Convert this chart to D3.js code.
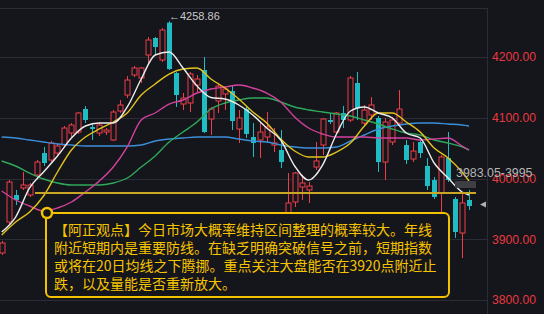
<!DOCTYPE html>
<html>
<head>
<meta charset="utf-8">
<script src="https://cdn.jsdelivr.net/npm/d3@7"></script>
<style>
  html, body { margin: 0; padding: 0; background: #15151c; }
  svg { display: block; }
</style>
</head>
<body>
<div id="chart"></div>
<script>
// Daily candles (index = trading day)
const opens  = [3877.4,3928.4,3972.8,3984.4,3972.8,4005.8,4041.9,4030.4,4041.9,4055.1,4074.9,4076.5,4114.4,4084.8,4074.9,4076.5,4063.4,4111.1,4137.4,4170.4,4165.4,4203.3,4231.3,4195.1,4256.5,4173.6,4122.6,4124.3,4153.9,4178.6,4097.9,4127.6,4139.1,4144.0,4081.5,4114.4,4068.3,4063.4,4068.3,4055.1,4046.9,3939.9,3961.3,3986.0,3981.1,4018.9,4055.1,4096.3,4076.5,4107.8,4096.3,4157.2,4091.3,4104.5,4099.6,4027.1,4060.1,4091.3,4055.1,4032.1,4060.1,4020.6,3997.5,3976.1,4033.7,3966.2,3910.3,3964.6];
const closes = [3893.8,3994.2,3964.6,3989.3,3989.3,4027.1,4025.5,4058.4,4053.5,4083.1,4088.0,4107.8,4096.3,4081.5,4088.0,4079.8,4109.4,4121.0,4162.1,4181.9,4181.9,4228.0,4216.4,4244.4,4180.2,4137.4,4132.5,4172.0,4163.8,4076.5,4114.4,4152.2,4147.3,4094.6,4099.6,4073.2,4058.4,4076.5,4084.8,4058.4,4027.1,3959.7,4009.0,3992.6,3987.6,4028.8,4097.9,4093.0,4107.8,4096.3,4165.4,4116.0,4112.7,4121.0,4027.1,4093.0,4096.3,4114.4,4030.4,4045.2,4041.9,3987.6,3969.5,4035.4,3997.5,3912.0,3959.7,3954.7];
const highs  = [3897.1,3997.5,3981.1,4010.7,3992.6,4030.4,4051.8,4061.7,4058.4,4086.4,4091.3,4109.4,4119.3,4091.3,4093.0,4083.1,4112.7,4129.2,4168.7,4185.2,4183.5,4232.9,4232.9,4247.7,4258.86,4175.3,4140.7,4175.3,4170.4,4200.0,4117.7,4157.2,4150.6,4153.9,4112.7,4119.3,4091.3,4091.3,4109.4,4083.1,4079.8,4009.0,4010.7,4005.8,3994.2,4060.1,4099.6,4107.8,4109.4,4119.3,4168.7,4175.3,4121.0,4134.1,4102.9,4099.6,4101.2,4145.7,4063.4,4060.1,4063.4,4033.7,4002.5,4038.7,4076.5,3969.5,3976.1,3981.1];
const lows   = [3874.1,3925.1,3956.4,3981.1,3969.5,4000.8,4020.6,4027.1,4038.7,4051.8,4068.3,4073.2,4091.3,4063.4,4069.9,4071.6,4061.7,4107.8,4132.5,4167.1,4157.2,4190.1,4203.3,4191.8,4178.6,4117.7,4112.7,4109.4,4142.4,4074.9,4071.6,4107.8,4112.7,4079.8,4058.4,4066.7,4035.4,4033.7,4058.4,4043.6,4017.3,3928.4,3953.1,3964.6,3959.7,4014.0,4038.7,4089.7,4074.9,4083.1,4093.0,4096.3,4088.0,4096.3,4010.7,3997.5,4055.1,4088.0,4023.9,4027.1,4033.7,3981.1,3966.2,3902.1,3994.2,3902.1,3869.1,3948.1];

// Moving averages read at every other day
const maIdx = [0,2,4,6,8,10,12,14,16,18,20,22,24,26,28,30,32,34,36,38,40,42,44,46,48,50,52,54,56,58,60,62,64,66,67];
const ma5  = [3912.0,3936.6,3984.4,4010.7,4037.0,4066.7,4086.4,4091.4,4091.4,4117.7,4163.8,4203.3,4208.2,4181.9,4152.3,4133.3,4130.9,4121.0,4104.5,4083.1,4063.4,4020.6,3997.5,4022.2,4073.3,4111.1,4117.7,4107.8,4099.6,4074.9,4066.7,4025.5,4000.8,3977.8,3972.9];
const ma10 = [3907.0,3928.4,3944.9,3971.2,4010.7,4046.9,4068.3,4081.5,4093.0,4107.8,4137.4,4155.6,4172.0,4180.2,4181.9,4163.8,4149.0,4130.9,4109.5,4091.4,4065.0,4045.3,4035.4,4035.4,4043.6,4058.4,4086.4,4107.8,4107.8,4093.0,4076.5,4050.2,4033.8,4010.7,3995.9];
const ma20 = [3979.4,3964.6,3954.7,3946.5,3951.5,3961.3,3977.8,3995.9,4018.9,4051.9,4096.3,4107.8,4122.6,4129.2,4140.7,4147.3,4150.6,4153.9,4149.0,4140.7,4126.0,4101.2,4083.1,4073.3,4068.3,4068.3,4068.3,4066.7,4066.7,4066.7,4063.4,4065.0,4066.7,4053.5,4046.9];
const ma30 = [4028.8,4020.6,4009.0,3999.2,3992.6,3989.3,3989.3,3989.3,3992.6,4000.8,4018.9,4037.0,4060.0,4076.5,4093.0,4114.4,4124.3,4129.2,4132.5,4132.5,4126.0,4117.7,4112.8,4109.5,4106.2,4102.9,4096.3,4089.7,4081.5,4074.9,4071.6,4063.4,4058.4,4051.9,4046.9];
const ma60 = [4068.3,4066.7,4063.4,4060.0,4056.8,4055.2,4053.5,4053.5,4053.5,4053.5,4055.2,4061.7,4065.0,4066.7,4068.3,4068.3,4068.3,4065.0,4061.7,4060.0,4055.2,4051.9,4050.2,4050.2,4051.9,4061.7,4071.6,4081.5,4086.4,4089.7,4091.4,4091.4,4089.7,4088.0,4086.4];

const yTicks = [3800, 3900, 4000, 4100, 4200];
const supportLevel = 3976;
const highLabel = "←4258.86";
const rangeLabel = "3983.05-3995";
const noteLines = [
    "【阿正观点】今日市场大概率维持区间整理的概率较大。年线",
    "附近短期内是重要防线。在缺乏明确突破信号之前，短期指数",
    "或将在20日均线之下腾挪。重点关注大盘能否在3920点附近止",
    "跌，以及量能是否重新放大。"
];

const width = 544, height = 314;
const plotRight = 487, plotTop = 8;
const upColor = "#ee3f48", downColor = "#1fbcc4";

const svg = d3.select("#chart").append("svg")
    .attr("width", width)
    .attr("height", height)
    .style("background", "#15151c");

const x = d3.scaleBand()
    .domain(d3.range(opens.length))
    .range([-1.79, -1.79 + 6.975 * opens.length])
    .paddingInner(0.28)
    .paddingOuter(0.14);
const cx = i => x(i) + x.bandwidth() / 2;

const y = d3.scaleLinear()
    .domain([3800, 4200])
    .range([300, 57]);

// grid
svg.append("line")
    .attr("x1", 0).attr("x2", plotRight)
    .attr("y1", plotTop + 0.5).attr("y2", plotTop + 0.5)
    .attr("stroke", "#2c2c36");
svg.append("line")
    .attr("x1", plotRight + 0.5).attr("x2", plotRight + 0.5)
    .attr("y1", plotTop).attr("y2", height)
    .attr("stroke", "#2c2c36");
svg.selectAll("line.grid")
    .data(yTicks)
    .join("line")
    .attr("class", "grid")
    .attr("x1", 0).attr("x2", plotRight)
    .attr("y1", d => Math.round(y(d)) + 0.5)
    .attr("y2", d => Math.round(y(d)) + 0.5)
    .attr("stroke", "#2c2c36");

// right axis labels
const axis = svg.append("g")
    .attr("transform", `translate(${plotRight + 2},0)`)
    .call(d3.axisRight(y).tickValues(yTicks).tickFormat(d3.format(".2f")).tickSize(0).tickPadding(3));
axis.select(".domain").remove();
axis.selectAll("text")
    .attr("fill", "#e5393f")
    .attr("font-family", "Liberation Sans, Arial, sans-serif")
    .attr("font-size", "12.2px");

const plot = svg.append("g");
svg.append("clipPath").attr("id", "clip")
    .append("rect").attr("x", 0).attr("y", plotTop).attr("width", plotRight).attr("height", height - plotTop);
plot.attr("clip-path", "url(#clip)");

// candles
const idx = d3.range(opens.length);
plot.selectAll("line.wick")
    .data(idx)
    .join("line")
    .attr("class", "wick")
    .attr("x1", i => Math.round(cx(i)) + 0.5)
    .attr("x2", i => Math.round(cx(i)) + 0.5)
    .attr("y1", i => y(highs[i]))
    .attr("y2", i => y(lows[i]))
    .attr("stroke", i => closes[i] >= opens[i] ? upColor : downColor);

plot.selectAll("rect.body")
    .data(idx)
    .join("rect")
    .attr("class", "body")
    .attr("x", i => Math.round(cx(i)) - 2)
    .attr("width", 5)
    .attr("y", i => y(Math.max(opens[i], closes[i])))
    .attr("height", i => Math.max(1, Math.abs(y(opens[i]) - y(closes[i]))))
    .attr("fill", i => closes[i] >= opens[i] ? "#15151c" : downColor)
    .attr("stroke", i => closes[i] >= opens[i] ? upColor : "none")
    .attr("stroke-width", 1);

// moving averages
const maLine = d3.line()
    .x(d => cx(d[0]))
    .y(d => y(d[1]))
    .curve(d3.curveMonotoneX);
[[ma60, "#3b8fd8"], [ma30, "#2fa85a"], [ma20, "#d2429c"], [ma10, "#e2c21c"], [ma5, "#ececec"]]
    .forEach(([vals, color]) => {
        plot.append("path")
            .datum(maIdx.map((k, j) => [k, vals[j]]))
            .attr("d", maLine)
            .attr("fill", "none")
            .attr("stroke", color)
            .attr("stroke-width", 1.4);
    });

// support line
svg.append("line")
    .attr("x1", 35).attr("x2", 476)
    .attr("y1", y(supportLevel)).attr("y2", y(supportLevel))
    .attr("stroke", "#c9a623")
    .attr("stroke-width", 2);

// labels on the price area
svg.append("text")
    .attr("x", 169).attr("y", 19.5)
    .attr("fill", "#c8c8c8")
    .attr("font-family", "Liberation Sans, DejaVu Sans, sans-serif")
    .attr("font-size", "11px")
    .text(highLabel);

svg.append("rect")
    .attr("x", 455).attr("y", 181).attr("width", 21).attr("height", 7)
    .attr("fill", "#3e3e44");
svg.append("text")
    .attr("x", 456).attr("y", 177)
    .attr("fill", "#b4b4b4")
    .attr("font-family", "Liberation Sans, Arial, sans-serif")
    .attr("font-size", "12.4px")
    .text(rangeLabel);

// last price marker
svg.append("path")
    .attr("d", "M480,204.5 L486,201.5 L486,207.5 Z")
    .attr("fill", "#b0b0b8");

// note box
svg.append("rect")
    .attr("x", 46).attr("y", 213).attr("width", 403).attr("height", 84)
    .attr("rx", 5)
    .attr("fill", "#15151c")
    .attr("stroke", "#f2c200")
    .attr("stroke-width", 2);
svg.append("circle")
    .attr("cx", 47).attr("cy", 213).attr("r", 5)
    .attr("fill", "#15151c")
    .attr("stroke", "#f2c200")
    .attr("stroke-width", 2.5);
svg.append("g")
    .selectAll("text")
    .data(noteLines)
    .join("text")
    .attr("x", 54)
    .attr("y", (d, i) => 235 + i * 18)
    .attr("fill", "#f5c400")
    .attr("font-family", "Noto Sans CJK SC, sans-serif")
    .attr("font-size", "14px")
    .text(d => d);
</script>
</body>
</html>
